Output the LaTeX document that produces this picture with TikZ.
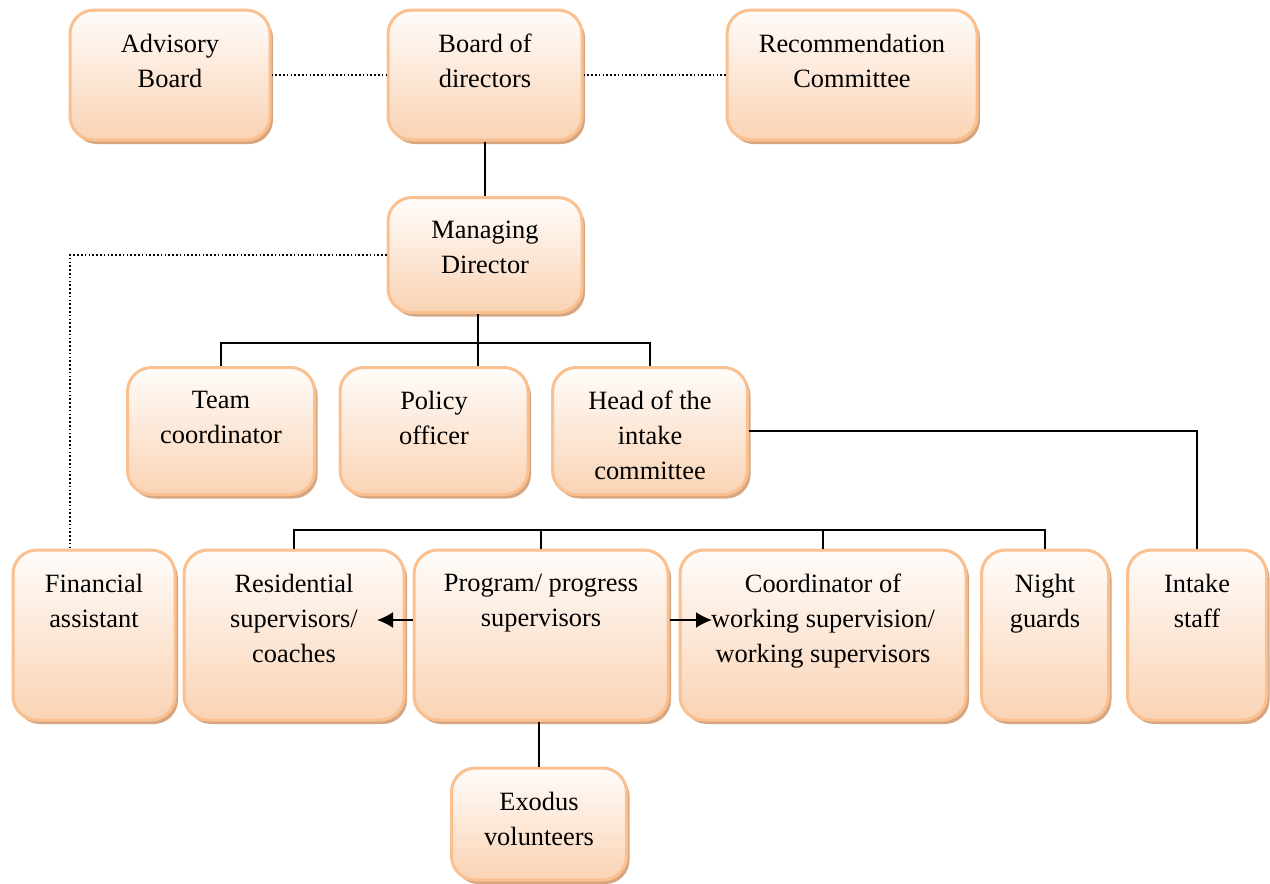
\documentclass[tikz,border=0pt]{standalone}
\usepackage{fontspec}
\setmainfont{Liberation Serif}
\usetikzlibrary{positioning,shadows,arrows.meta}
\definecolor{boxline}{HTML}{FAC090}
\definecolor{boxbottom}{HTML}{FAD3B4}
\definecolor{boxtop}{HTML}{FFFCFA}
\definecolor{boxshadow}{HTML}{D6A681}
\tikzset{
    orgbox/.style={draw=boxline, line width=1.5pt, rounded corners=12pt,
        top color=boxtop, bottom color=boxbottom, inner sep=0pt,
        general shadow={fill=boxshadow, shadow xshift=1.5pt, shadow yshift=-2pt}},
    boxtext/.style={inner sep=0pt, align=center, font=\fontsize{13.2}{17.5}\selectfont},
    link/.style={black, line width=1pt},
    dotlink/.style={black, line width=0.8pt, dash pattern=on 0.8pt off 1.1pt},
}

\begin{document}
\begin{tikzpicture}[x=0.5pt, y=-0.5pt]
    \useasboundingbox (0,0) rectangle (1270,884);

    % top row
    \node[orgbox, minimum width=100pt, minimum height=65pt] (adv) at (170,75) {};
    \node[orgbox, minimum width=97pt, minimum height=65pt] (bod) at (485,75) {};
    \node[orgbox, minimum width=125pt, minimum height=65pt] (rec) at (852,75) {};

    % managing director
    \node[orgbox, minimum width=97pt, minimum height=57.5pt] (md) at (485,255) {};

    % staff row
    \node[orgbox, minimum width=93.5pt, minimum height=63.5pt] (team) at (221,431) {};
    \node[orgbox, minimum width=94pt, minimum height=63.5pt] (pol) at (434,431) {};
    \node[orgbox, minimum width=97.5pt, minimum height=63.5pt] (head) at (650,431) {};

    % supervisors row
    \node[orgbox, minimum width=81pt, minimum height=85pt] (fin) at (94,635) {};
    \node[orgbox, minimum width=110pt, minimum height=85pt] (res) at (294,635) {};
    \node[orgbox, minimum width=127pt, minimum height=85pt] (prog) at (541,635) {};
    \node[orgbox, minimum width=143pt, minimum height=85pt] (coord) at (823,635) {};
    \node[orgbox, minimum width=63.5pt, minimum height=85pt] (night) at (1045,635) {};
    \node[orgbox, minimum width=69.5pt, minimum height=85pt] (intake) at (1197,635) {};

    % volunteers
    \node[orgbox, minimum width=87.5pt, minimum height=56pt] (exo) at (539,824) {};

    % labels, hung from the top of each box
    \node[boxtext, below=12.5pt of adv.north] (advt) {Advisory\\Board};
    \node[boxtext, below=12.5pt of bod.north] (bodt) {Board of\\directors};
    \node[boxtext, below=12.5pt of rec.north] (rect) {Recommendation\\Committee};
    \node[boxtext, below=12.5pt of md.north] (mdt) {Managing\\Director};
    \node[boxtext, below=12.5pt of team.north] (teamt) {Team\\coordinator};
    \node[boxtext, below=12.5pt of pol.north] (polt) {Policy\\officer};
    \node[boxtext, below=12.5pt of head.north] (headt) {Head of the\\intake\\committee};
    \node[boxtext, below=12.5pt of fin.north] (fint) {Financial\\assistant};
    \node[boxtext, below=12.5pt of res.north] (rest) {Residential\\supervisors/\\coaches};
    \node[boxtext, below=12.5pt of prog.north] (progt) {Program/ progress\\supervisors};
    \node[boxtext, below=12.5pt of coord.north] (coordt) {Coordinator of\\working supervision/\\working supervisors};
    \node[boxtext, below=12.5pt of night.north] (nightt) {Night\\guards};
    \node[boxtext, below=12.5pt of intake.north] (intaket) {Intake\\staff};
    \node[boxtext, below=12.5pt of exo.north] (exot) {Exodus\\volunteers};

    % dotted advisory links
    \draw[dotlink] (adv.east) -- (bod.west);
    \draw[dotlink] (bod.east) -- (rec.west);
    \coordinate (fintap) at (70,550);
    \draw[dotlink] (md.west) -| (fintap);

    % solid lines
    \draw[link] (bod.south) -- (md.south |- md.north);
    \coordinate (midbus) at (478,343);
    \draw[link] (md.south -| midbus) -- (pol.north -| midbus);
    \draw[link] (team.north) |- (midbus) -| (head.north);
    \draw[link] (head.east) -| (intake.north);

    \coordinate (lowbus) at (0,530);
    \draw[link] (res.north) |- (night.north |- lowbus) -- (night.north);
    \draw[link] (prog.north) -- (prog.north |- lowbus);
    \draw[link] (coord.north) -- (coord.north |- lowbus);
    \draw[link] (prog.south -| exo.north) -- (exo.north);

    % arrows out of program supervisors
    \coordinate (resarr) at (377,620);
    \coordinate (coordarr) at (712,620);
    \draw[link, -{Latex[length=8pt, width=8pt]}] (prog.west |- resarr) -- (resarr);
    \draw[link, -{Latex[length=8pt, width=8pt]}] (prog.east |- coordarr) -- (coordarr);
\end{tikzpicture}
\end{document}
